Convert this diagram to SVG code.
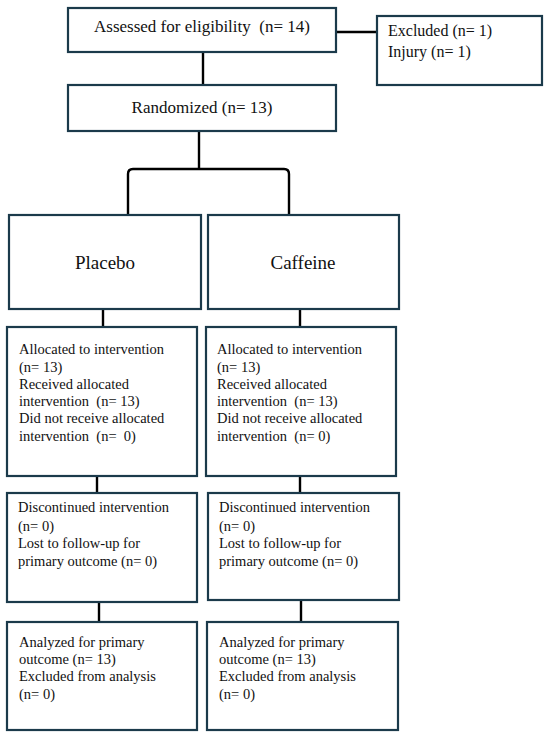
<svg xmlns="http://www.w3.org/2000/svg" width="550" height="740" viewBox="0 0 550 740">
<style>
.box{fill:#fff;stroke:#1b3a4b;stroke-width:2.2}
.con{fill:none;stroke:#000;stroke-width:2.4}
text{font-family:"Liberation Serif","Times New Roman",serif;fill:#111;white-space:pre}
.t17{font-size:17px}
.t16{font-size:16px}
.t19{font-size:19px}
.t14{font-size:14.5px}
</style>
<rect width="550" height="740" fill="#fff"/>
<g id="connectors">
<line class="con" x1="336" y1="32" x2="377" y2="32"/>
<line class="con" x1="203" y1="52" x2="203" y2="85"/>
<line class="con" x1="199" y1="131" x2="199" y2="169"/>
<path class="con" d="M128,215 V174 Q128,169 133,169 H284 Q289,169 289,174 V215"/>
<line class="con" x1="103" y1="309" x2="103" y2="327"/>
<line class="con" x1="300" y1="309" x2="300" y2="327"/>
<line class="con" x1="97" y1="476" x2="97" y2="493"/>
<line class="con" x1="300" y1="476" x2="300" y2="493"/>
<line class="con" x1="99" y1="602" x2="99" y2="622"/>
<line class="con" x1="301" y1="600" x2="301" y2="622"/>
</g>
<g id="assessed">
<rect class="box" x="68" y="8" width="268" height="44"/>
<text class="t17" x="202" y="32" text-anchor="middle">Assessed for eligibility  (n= 14)</text>
</g>
<g id="excluded">
<rect class="box" x="377" y="16" width="165" height="69"/>
<text class="t16" x="388" y="36">Excluded (n= 1)</text>
<text class="t16" x="388" y="57">Injury (n= 1)</text>
</g>
<g id="randomized">
<rect class="box" x="68" y="85" width="268" height="46"/>
<text class="t17" x="202" y="113" text-anchor="middle">Randomized (n= 13)</text>
</g>
<g id="placebo">
<rect class="box" x="9" y="215" width="192" height="94"/>
<text class="t19" x="105" y="269" text-anchor="middle">Placebo</text>
</g>
<g id="caffeine">
<rect class="box" x="208" y="215" width="191" height="94"/>
<text class="t19" x="303" y="269" text-anchor="middle">Caffeine</text>
</g>
<g id="alloc-placebo">
<rect class="box" x="7" y="327" width="190" height="149"/>
<text class="t14" x="19" y="354">Allocated to intervention</text>
<text class="t14" x="19" y="372">(n= 13)</text>
<text class="t14" x="19" y="389">Received allocated</text>
<text class="t14" x="19" y="406">intervention  (n= 13)</text>
<text class="t14" x="19" y="423">Did not receive allocated</text>
<text class="t14" x="19" y="441">intervention  (n=  0)</text>
</g>
<g id="alloc-caffeine">
<rect class="box" x="206" y="327" width="190" height="149"/>
<text class="t14" x="217" y="354">Allocated to intervention</text>
<text class="t14" x="217" y="372">(n= 13)</text>
<text class="t14" x="217" y="389">Received allocated</text>
<text class="t14" x="217" y="406">intervention  (n= 13)</text>
<text class="t14" x="217" y="423">Did not receive allocated</text>
<text class="t14" x="217" y="441">intervention  (n= 0)</text>
</g>
<g id="disc-placebo">
<rect class="box" x="7" y="493" width="190" height="109"/>
<text class="t14" x="18" y="512">Discontinued intervention</text>
<text class="t14" x="18" y="531">(n= 0)</text>
<text class="t14" x="18" y="548">Lost to follow-up for</text>
<text class="t14" x="18" y="566">primary outcome (n= 0)</text>
</g>
<g id="disc-caffeine">
<rect class="box" x="208" y="493" width="191" height="107"/>
<text class="t14" x="219" y="512">Discontinued intervention</text>
<text class="t14" x="219" y="531">(n= 0)</text>
<text class="t14" x="219" y="548">Lost to follow-up for</text>
<text class="t14" x="219" y="566">primary outcome (n= 0)</text>
</g>
<g id="anal-placebo">
<rect class="box" x="7" y="622" width="190" height="108"/>
<text class="t14" x="19" y="647">Analyzed for primary</text>
<text class="t14" x="19" y="664">outcome (n= 13)</text>
<text class="t14" x="19" y="681">Excluded from analysis</text>
<text class="t14" x="19" y="699">(n= 0)</text>
</g>
<g id="anal-caffeine">
<rect class="box" x="207" y="622" width="191" height="108"/>
<text class="t14" x="219" y="647">Analyzed for primary</text>
<text class="t14" x="219" y="664">outcome (n= 13)</text>
<text class="t14" x="219" y="681">Excluded from analysis</text>
<text class="t14" x="219" y="699">(n= 0)</text>
</g>
</svg>
